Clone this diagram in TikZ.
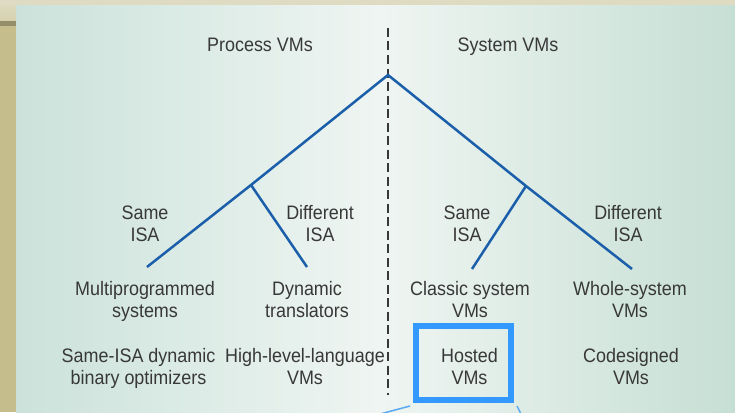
\documentclass[tikz,border=0pt]{standalone}
\usepackage{fontspec}
\setmainfont{Liberation Sans}[FakeStretch=0.92]
\usepackage{tikz}
\usetikzlibrary{positioning}
\usepackage{xcolor}

\definecolor{treeblue}{HTML}{1B5FAA}
\definecolor{boxblue}{HTML}{3399FF}
\definecolor{calloutblue}{HTML}{5AAAF2}
\definecolor{textgray}{HTML}{383838}
\definecolor{panelL}{HTML}{CBE2DA}
\definecolor{panelM}{HTML}{EFF5F2}
\definecolor{panelR}{HTML}{C6DFD4}
\definecolor{olive}{HTML}{C6BD8D}
\definecolor{topband}{HTML}{DEDBC2}

\begin{document}
\begin{tikzpicture}[x=1pt, y=-1pt,
    branch/.style={treeblue, line width=2.5pt},
    lbl/.style={text=textgray, align=center, inner sep=0pt, anchor=base,
        font=\fontsize{19.5}{22}\selectfont}]
    \useasboundingbox (0,0) rectangle (735,412);

    % background
    \fill[olive] (0,0) rectangle (16,412);
    \shade[top color=topband, bottom color=olive!70!white] (0,0) rectangle (16,21);
    \fill[olive!75!black] (0,21) rectangle (16,26);
    \fill[topband] (0,0) rectangle (735,6);
    \shade[left color=panelL, right color=panelM] (16,6) rectangle (381,412);
    \shade[left color=panelM, right color=panelR] (380,6) rectangle (735,412);

    % divider
    \draw[textgray, line width=1.2pt, dash pattern=on 9pt off 4.5pt]
        (388,28) -- (388,395);

    % tree
    \coordinate (root) at (388,75);
    \coordinate (pmid) at (251,185);
    \coordinate (smid) at (526,186);
    \coordinate (psame) at (147,267);
    \coordinate (pdiff) at (307,267);
    \coordinate (ssame) at (472,269);
    \coordinate (sdiff) at (632,269);

    \draw[branch] (psame) -- (pmid) -- (root) -- (smid) -- (sdiff);
    \draw[branch] (pmid) -- (pdiff);
    \draw[branch] (smid) -- (ssame);

    % headings
    \node[lbl] (process) at (260,52) {Process VMs};
    \node[lbl] (system) at (508,52) {System VMs};

    % ISA labels (base = last line)
    \node[lbl] (psamelbl) at (145,241) {Same\\ISA};
    \node[lbl] (pdifflbl) at (320,241) {Different\\ISA};
    \node[lbl] (ssamelbl) at (467,241) {Same\\ISA};
    \node[lbl] (sdifflbl) at (628,241) {Different\\ISA};

    % leaves
    \node[lbl] (multi) at (145,317) {Multiprogrammed\\systems};
    \node[lbl] (dyntrans) at (307,317) {Dynamic\\translators};
    \node[lbl] (classic) at (470,317) {Classic system\\VMs};
    \node[lbl] (whole) at (630,317) {Whole-system\\VMs};

    \node[lbl] (binopt) at (138.5,384) {Same-ISA dynamic\\binary optimizers};
    \node[lbl] (hll) at (305,384) {High-level-language\\VMs};
    \node[lbl] (hosted) at (469.5,384) {Hosted\\VMs};
    \node[lbl] (codes) at (631,384) {Codesigned\\VMs};

    % highlight
    \node[draw=boxblue, line width=6pt, minimum width=95pt, minimum height=74pt,
        inner sep=0pt] (hostbox) at (463.5,363) {};
    \coordinate (calloutL) at (380,414);
    \coordinate (calloutR) at (521,414);
    \draw[calloutblue, line width=1.5pt] ([shift={(-3,3)}]hostbox.south west) -- (calloutL);
    \draw[calloutblue, line width=1.5pt] ([shift={(3,3)}]hostbox.south east) -- (calloutR);
\end{tikzpicture}
\end{document}
